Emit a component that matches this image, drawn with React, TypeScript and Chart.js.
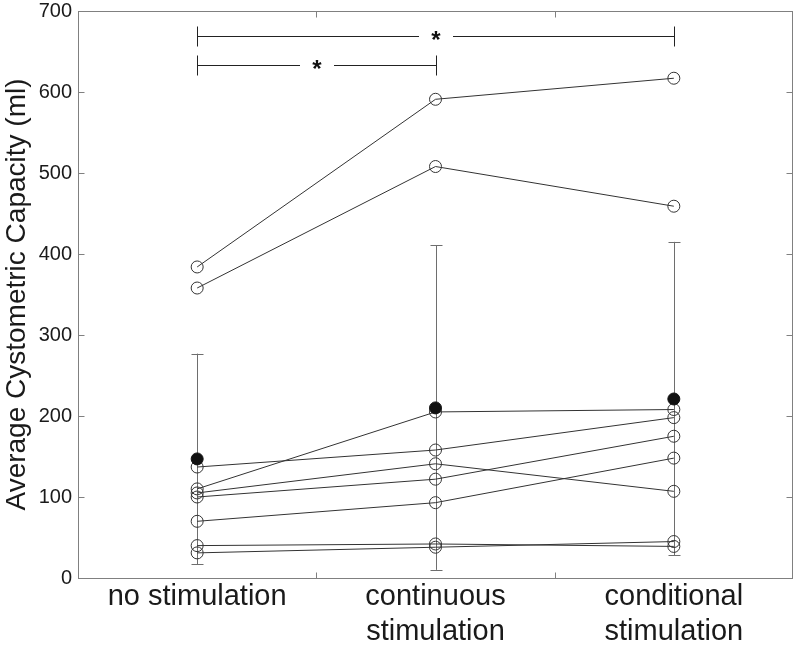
import { useEffect, useRef } from "react";
import { Chart, registerables } from "chart.js";

Chart.register(...registerables);

const categories: (string | string[])[] = [
  "no stimulation",
  ["continuous", "stimulation"],
  ["conditional", "stimulation"],
];

// individual subjects (same index = same subject across conditions)
const noStimulation = [384, 358, 137, 110, 105, 100, 70, 40, 31];
const continuousStimulation = [591, 508, 158, 205, 141, 122, 93, 42, 38];
const conditionalStimulation = [617, 459, 198, 208, 107, 175, 148, 39, 45];

// group mean and error bar ends
const meanValues = [147, 210, 221];
const errorHigh = [277, 411, 415];
const errorLow = [17, 10, 28];

const yTickValues = [0, 100, 200, 300, 400, 500, 600, 700];

// significance brackets
const bracketFrom = [0, 0];
const bracketTo = [2, 1];
const bracketLevel = [669, 633];
const bracketLabel = ["*", "*"];

const FONT = "'Liberation Sans', Arial, Helvetica, sans-serif";

export default function App() {
  const ref = useRef<HTMLCanvasElement | null>(null);

  useEffect(() => {
    const canvas = ref.current;
    if (!canvas) return;

    const subjectSets = noStimulation.map((_, i) => ({
      type: "line" as const,
      label: "subject " + (i + 1),
      data: [noStimulation[i], continuousStimulation[i], conditionalStimulation[i]],
      borderColor: "#333333",
      borderWidth: 1,
      pointRadius: 6,
      pointBorderWidth: 1,
      pointBorderColor: "#333333",
      pointBackgroundColor: "rgba(0,0,0,0)",
      fill: false,
      tension: 0,
    }));

    const errorBars = {
      id: "errorBars",
      beforeDatasetsDraw(chart: any) {
        const ctx = chart.ctx;
        const xs = chart.scales.x;
        const ys = chart.scales.y;
        ctx.save();
        ctx.strokeStyle = "#6e6e6e";
        ctx.lineWidth = 1;
        meanValues.forEach((_, i) => {
          const x = Math.round(xs.getPixelForValue(i)) + 0.5;
          const yh = ys.getPixelForValue(errorHigh[i]);
          const yl = ys.getPixelForValue(errorLow[i]);
          ctx.beginPath();
          ctx.moveTo(x, yh);
          ctx.lineTo(x, yl);
          ctx.moveTo(x - 6, Math.round(yh) + 0.5);
          ctx.lineTo(x + 6, Math.round(yh) + 0.5);
          ctx.moveTo(x - 6, Math.round(yl) + 0.5);
          ctx.lineTo(x + 6, Math.round(yl) + 0.5);
          ctx.stroke();
        });
        ctx.restore();
      },
    };

    const frame = {
      id: "frame",
      afterDraw(chart: any) {
        const ctx = chart.ctx;
        const a = chart.chartArea;
        const xs = chart.scales.x;
        const ys = chart.scales.y;
        ctx.save();
        ctx.strokeStyle = "#808080";
        ctx.lineWidth = 1;
        const L = Math.round(a.left) + 0.5;
        const R = Math.round(a.right) - 0.5;
        const T = Math.round(a.top) + 0.5;
        const B = Math.round(a.bottom) + 0.5;
        ctx.strokeRect(L, T, R - L, B - T);
        ctx.beginPath();
        yTickValues.forEach((v) => {
          const y = Math.round(ys.getPixelForValue(v)) + 0.5;
          ctx.moveTo(L, y);
          ctx.lineTo(L + 6, y);
          ctx.moveTo(R, y);
          ctx.lineTo(R - 6, y);
        });
        for (let i = 0; i < categories.length - 1; i++) {
          const x = Math.round((xs.getPixelForValue(i) + xs.getPixelForValue(i + 1)) / 2) + 0.5;
          ctx.moveTo(x, B);
          ctx.lineTo(x, B - 6);
          ctx.moveTo(x, T);
          ctx.lineTo(x, T + 6);
        }
        ctx.stroke();

        // significance brackets
        ctx.strokeStyle = "#222222";
        ctx.fillStyle = "#111111";
        ctx.font = "bold 24px " + FONT;
        ctx.textAlign = "center";
        ctx.textBaseline = "alphabetic";
        bracketFrom.forEach((from, i) => {
          const x1 = Math.round(xs.getPixelForValue(from)) + 0.5;
          const x2 = Math.round(xs.getPixelForValue(bracketTo[i])) + 0.5;
          const y = Math.round(ys.getPixelForValue(bracketLevel[i])) + 0.5;
          const xm = (x1 + x2) / 2;
          const gap = 17;
          ctx.beginPath();
          ctx.moveTo(x1, y - 10);
          ctx.lineTo(x1, y + 10);
          ctx.moveTo(x2, y - 10);
          ctx.lineTo(x2, y + 10);
          ctx.moveTo(x1, y);
          ctx.lineTo(xm - gap, y);
          ctx.moveTo(xm + gap, y);
          ctx.lineTo(x2, y);
          ctx.stroke();
          ctx.fillText(bracketLabel[i], xm, y + 11);
        });
        ctx.restore();
      },
    };

    const chart = new Chart(canvas, {
      type: "line",
      data: {
        labels: categories as any,
        datasets: [
          {
            type: "line",
            label: "mean",
            data: meanValues,
            showLine: false,
            pointRadius: 6,
            pointBorderWidth: 1,
            pointBorderColor: "#111111",
            pointBackgroundColor: "#111111",
          },
          ...subjectSets,
        ] as any,
      },
      options: {
        responsive: false,
        animation: false,
        events: [],
        layout: { padding: { top: 11, right: 5, left: 0, bottom: 0 } },
        plugins: {
          legend: { display: false },
          tooltip: { enabled: false },
        },
        scales: {
          x: {
            type: "category",
            offset: true,
            grid: { display: false, drawTicks: false },
            border: { display: false },
            ticks: {
              color: "#1a1a1a",
              font: { family: FONT, size: 29 },
              padding: 2,
              maxRotation: 0,
              autoSkip: false,
            },
            afterFit: (s: any) => {
              s.height = 67;
              s.paddingLeft = 0;
              s.paddingRight = 0;
            },
          },
          y: {
            type: "linear",
            min: 0,
            max: 700,
            grid: { display: false, drawTicks: false },
            border: { display: false },
            ticks: {
              stepSize: 100,
              color: "#1a1a1a",
              font: { family: FONT, size: 20 },
              padding: 6,
            },
            title: {
              display: true,
              text: "Average Cystometric Capacity (ml)",
              color: "#1a1a1a",
              font: { family: FONT, size: 28 },
              padding: 0,
            },
            afterFit: (s: any) => {
              s.width = 78;
              s.paddingTop = 0;
              s.paddingBottom = 0;
            },
          },
        },
      },
      plugins: [errorBars, frame],
    });

    return () => chart.destroy();
  }, []);

  return (
    <div style={{ position: "absolute", left: 0, top: 0, width: 800, height: 645, background: "#fff" }}>
      <canvas ref={ref} width={800} height={645} style={{ display: "block" }} />
    </div>
  );
}
